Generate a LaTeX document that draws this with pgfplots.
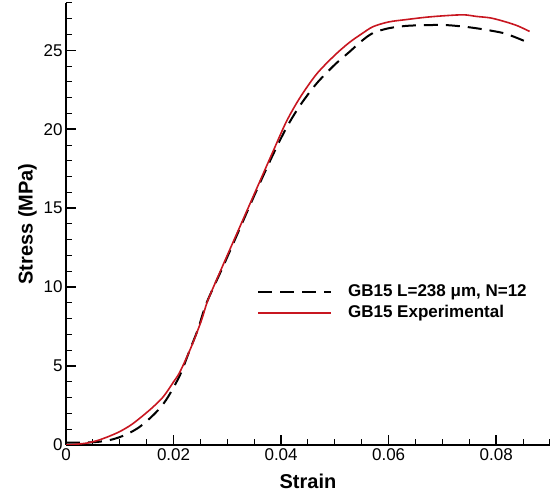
\documentclass[border=0pt]{standalone}
\usepackage{fontspec}
\setmainfont{Liberation Sans}
\usepackage{pgfplots}
\pgfplotsset{compat=1.18}
\definecolor{expred}{RGB}{200,22,32}
\begin{document}
\begin{tikzpicture}
\path[use as bounding box] (0,0) rectangle (560pt,494pt);
\begin{axis}[
  scale only axis, width=484pt, height=442pt,
  at={(66pt,49pt)}, anchor=south west,
  xmin=0, xmax=0.09, ymin=0, ymax=28,
  scaled x ticks=false, scaled y ticks=false,
  axis x line*=bottom, axis y line*=left,
  axis line style={line width=1.6pt,-},
  xtick={0,0.02,0.04,0.06,0.08}, xticklabels={0,0.02,0.04,0.06,0.08},
  minor xtick={0.005,0.01,0.015,0.025,0.03,0.035,0.045,0.05,0.055,0.065,0.07,0.075,0.085,0.09},
  ytick={0,5,10,15,20,25}, yticklabels={0,5,10,15,20,25},
  minor ytick={1,2,3,4,6,7,8,9,11,12,13,14,16,17,18,19,21,22,23,24,26,27,28},
  tick align=inside,
  major tick length=10pt, minor tick length=6pt,
  every major tick/.style={line width=1.6pt,black},
  every minor tick/.style={line width=1pt,black},
  ticklabel style={font=\fontsize{17}{20}\selectfont},
  /pgf/number format/assume math mode=true,
  xlabel={Strain}, ylabel={Stress (MPa)},
  label style={font=\bfseries\fontsize{20}{24}\selectfont},
  xlabel style={at={(axis description cs:0.5,-0.0814)}, anchor=center},
  ylabel style={at={(axis description cs:-0.0795,0.5)}, anchor=center},
  legend style={draw=none, fill=none, at={(axis cs:0.0355,9.04)}, anchor=west,
    inner sep=0pt, row sep=4pt, column sep=16pt,
    nodes={inner sep=0pt, text height=13pt, text depth=4pt, font=\bfseries\fontsize{17}{20}\selectfont}},
  legend cell align=left,
  legend image code/.code={\draw[#1] (0pt,0pt) -- (73pt,0pt);},
]
\addplot[black, line width=2pt, dash pattern=on 14pt off 8pt, smooth, tension=0.5] coordinates {
(0,0.15) (0.003,0.15) (0.006,0.2) (0.008,0.3) (0.010,0.5) (0.012,0.8)
(0.0137,1.15) (0.0156,1.69) (0.0175,2.35) (0.019,3.06) (0.0212,4.43)
(0.0230,6.0) (0.0246,7.39) (0.0261,8.97) (0.0292,11.3) (0.0323,13.7)
(0.0354,16.1) (0.0385,18.4) (0.0410,20.1) (0.0435,21.5) (0.0466,22.9)
(0.050,24.1) (0.0527,24.9) (0.0550,25.6) (0.0571,26.1) (0.060,26.4)
(0.0633,26.55) (0.067,26.6) (0.0707,26.6) (0.0740,26.5) (0.0763,26.4)
(0.0790,26.25) (0.0818,26.05) (0.0852,25.6)
};
\addlegendentry{GB15 L=238 μm, N=12}
\addplot[expred, line width=1.6pt, smooth, tension=0.5] coordinates {
(0,0) (0.002,0.05) (0.004,0.13) (0.006,0.3) (0.008,0.55) (0.010,0.85)
(0.012,1.25) (0.0137,1.69) (0.016,2.35) (0.0181,3.06) (0.0200,4.0)
(0.0212,4.64) (0.0233,6.22) (0.0252,7.91) (0.0264,9.18) (0.0292,11.4)
(0.0323,13.8) (0.0354,16.2) (0.0385,18.6) (0.0410,20.5) (0.0435,22.0)
(0.0466,23.5) (0.050,24.7) (0.0527,25.5) (0.0550,26.05) (0.0571,26.5)
(0.060,26.8) (0.0633,26.95) (0.0670,27.1) (0.0707,27.2) (0.0740,27.25)
(0.0763,27.15) (0.0790,27.05) (0.0818,26.8) (0.0840,26.55) (0.0862,26.2)
};
\addlegendentry{GB15 Experimental}
\end{axis}
\end{tikzpicture}
\end{document}
